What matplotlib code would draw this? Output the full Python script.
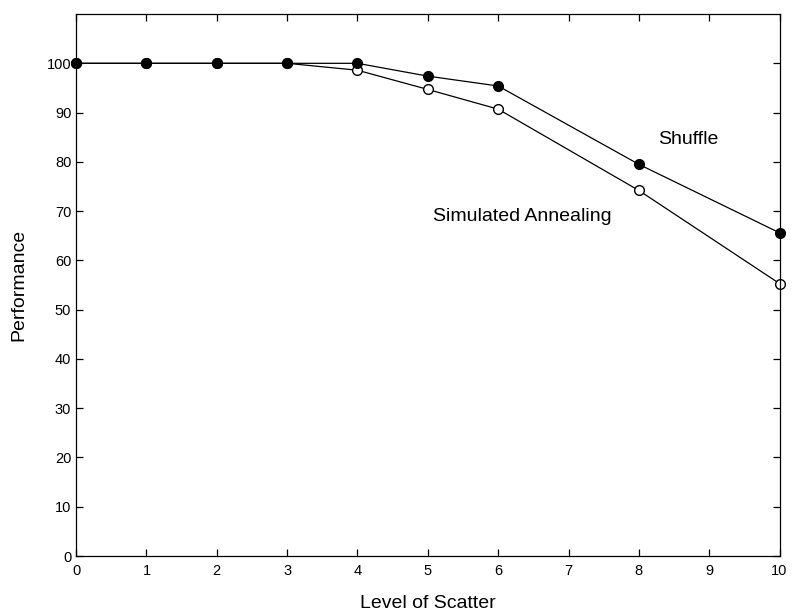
import matplotlib.pyplot as plt

plt.rcParams['font.family'] = ['Liberation Sans', 'DejaVu Sans']

scatter_level = [0, 1, 2, 3, 4, 5, 6, 8, 10]
shuffle = [100, 100, 100, 100, 100, 97.4, 95.4, 79.5, 65.6]
annealing = [100, 100, 100, 100, 98.6, 94.7, 90.7, 74.2, 55.3]

fig = plt.figure(figsize=(7.93, 6.11), dpi=100)
ax = fig.add_axes([0.096, 0.090, 0.887, 0.887])

ax.plot(scatter_level, annealing, color='black', lw=0.9, marker='o',
        markersize=7, markerfacecolor='white', markeredgecolor='black', clip_on=False)
ax.plot(scatter_level, shuffle, color='black', lw=0.9, marker='o',
        markersize=7, markerfacecolor='black', markeredgecolor='black', clip_on=False, zorder=3)

# curve labels
ax.text(8.28, 84.6, 'Shuffle', fontsize=14, va='center', ha='left')
ax.text(5.07, 68.9, 'Simulated Annealing', fontsize=14, va='center', ha='left')

ax.set_xlim(0, 10)
ax.set_ylim(0, 110)
ax.set_xticks(range(0, 11))
ax.set_yticks(range(0, 101, 10))
ax.tick_params(direction='in', top=True, right=True, labelsize=10.5, length=5, width=0.9)
ax.tick_params(axis='x', pad=6)
for s in ax.spines.values():
    s.set_linewidth(0.9)

ax.set_xlabel('Level of Scatter', fontsize=14, labelpad=12)
ax.set_ylabel('Performance', fontsize=14, labelpad=14)

fig.savefig('out.png', dpi=100)
